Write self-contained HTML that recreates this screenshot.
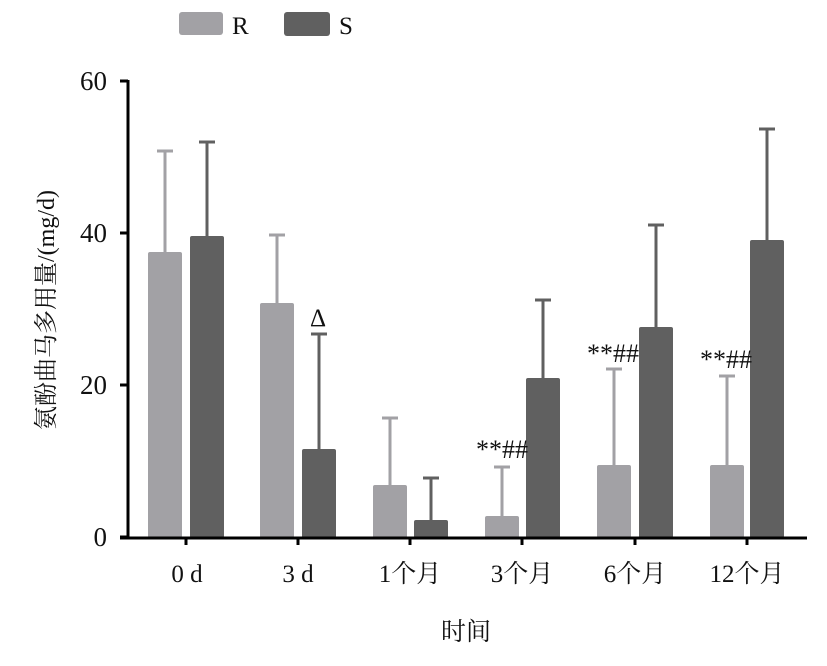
<!DOCTYPE html>
<html><head><meta charset="utf-8"><style>body{margin:0;background:#fff}</style></head><body>
<svg width="827" height="661" xmlns="http://www.w3.org/2000/svg" font-family="Liberation Serif, Noto Serif CJK SC, serif" font-size="25" fill="#111">
<rect x="179" y="12" width="44" height="23" rx="3" fill="#a2a1a5"/>
<text x="232" y="34">R</text>
<rect x="284" y="12" width="46" height="24" rx="3" fill="#606060"/>
<text x="339" y="34">S</text>
<g stroke-width="3">
<g stroke="#a2a1a5" fill="#a2a1a5">
<line x1="165" y1="252" x2="165" y2="151"/><line x1="157" y1="151" x2="173" y2="151"/>
<line x1="277" y1="303" x2="277" y2="235"/><line x1="269" y1="235" x2="285" y2="235"/>
<line x1="390" y1="485" x2="390" y2="418"/><line x1="382" y1="418" x2="398" y2="418"/>
<line x1="502" y1="516" x2="502" y2="467"/><line x1="494" y1="467" x2="510" y2="467"/>
<line x1="614" y1="465" x2="614" y2="369"/><line x1="606" y1="369" x2="622" y2="369"/>
<line x1="727" y1="465" x2="727" y2="376"/><line x1="719" y1="376" x2="735" y2="376"/>
</g>
<g stroke="#606060">
<line x1="207" y1="236" x2="207" y2="142"/><line x1="199" y1="142" x2="215" y2="142"/>
<line x1="319" y1="449" x2="319" y2="334"/><line x1="311" y1="334" x2="327" y2="334"/>
<line x1="431" y1="520" x2="431" y2="478"/><line x1="423" y1="478" x2="439" y2="478"/>
<line x1="543" y1="378" x2="543" y2="300"/><line x1="535" y1="300" x2="551" y2="300"/>
<line x1="656" y1="327" x2="656" y2="225"/><line x1="648" y1="225" x2="664" y2="225"/>
<line x1="767" y1="240" x2="767" y2="129"/><line x1="759" y1="129" x2="775" y2="129"/>
</g>
</g>
<g fill="#a2a1a5">
<rect x="148" y="252" width="34" height="286" rx="2"/>
<rect x="260" y="303" width="34" height="235" rx="2"/>
<rect x="373" y="485" width="34" height="53" rx="2"/>
<rect x="485" y="516" width="34" height="22" rx="2"/>
<rect x="597" y="465" width="34" height="73" rx="2"/>
<rect x="710" y="465" width="34" height="73" rx="2"/>
</g>
<g fill="#606060">
<rect x="190" y="236" width="34" height="302" rx="2"/>
<rect x="302" y="449" width="34" height="89" rx="2"/>
<rect x="414" y="520" width="34" height="18" rx="2"/>
<rect x="526" y="378" width="34" height="160" rx="2"/>
<rect x="639" y="327" width="34" height="211" rx="2"/>
<rect x="750" y="240" width="34" height="298" rx="2"/>
</g>
<g stroke="#000" stroke-width="3" fill="none">
<line x1="128" y1="80" x2="128" y2="538"/>
<line x1="120" y1="81" x2="128" y2="81"/><line x1="120" y1="233" x2="128" y2="233"/><line x1="120" y1="385" x2="128" y2="385"/><line x1="120" y1="537" x2="128" y2="537"/>
<line x1="120" y1="538" x2="807" y2="538"/>
<line x1="186" y1="538" x2="186" y2="545"/><line x1="298" y1="538" x2="298" y2="545"/><line x1="410" y1="538" x2="410" y2="545"/><line x1="522" y1="538" x2="522" y2="545"/><line x1="635" y1="538" x2="635" y2="545"/><line x1="747" y1="538" x2="747" y2="545"/>
</g>
<g text-anchor="end" font-size="27"><text x="107" y="90">60</text><text x="107" y="242">40</text><text x="107" y="394">20</text><text x="107" y="546">0</text></g>
<g text-anchor="middle">
<text x="187" y="582">0 d</text><text x="298" y="582">3 d</text><text x="410" y="582">1个月</text><text x="522" y="582">3个月</text><text x="635" y="582">6个月</text><text x="747" y="582">12个月</text>
<text x="466" y="640">时间</text>
<text x="318" y="326">Δ</text>
<text x="502" y="458" font-size="26">**##</text><text x="613" y="362" font-size="26">**##</text><text x="726" y="368" font-size="26">**##</text>
<text transform="translate(54,310) rotate(-90)" font-size="24">氨酚曲马多用量/(mg/d)</text>
</g>
</svg>
</body></html>
